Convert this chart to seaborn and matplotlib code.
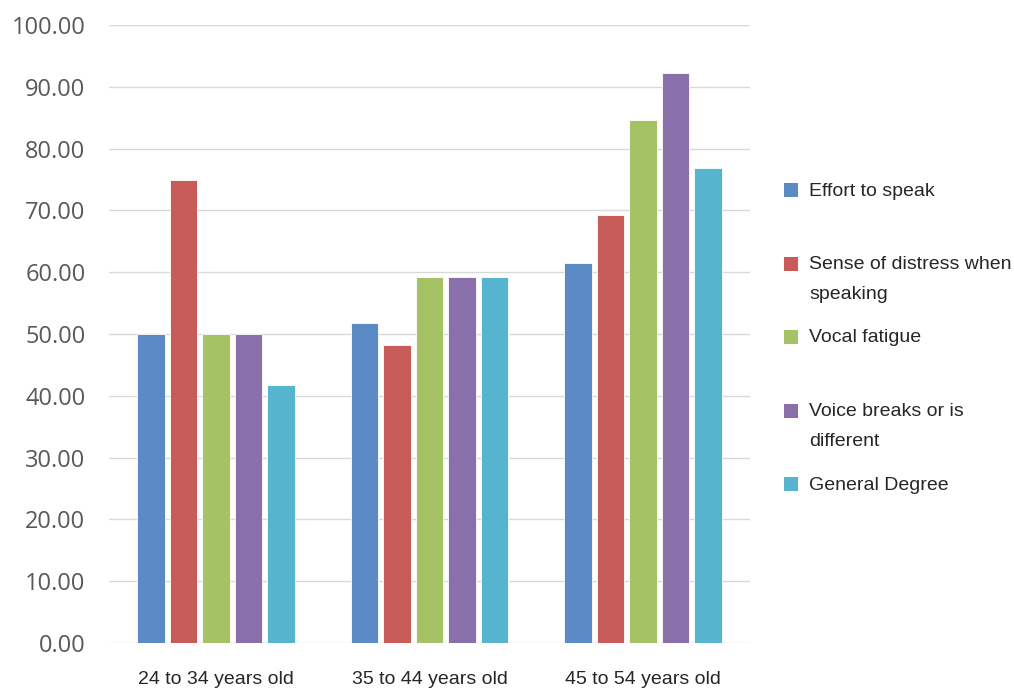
import pandas as pd
import matplotlib
matplotlib.use("Agg")
import matplotlib.pyplot as plt
from matplotlib.patches import Rectangle
from matplotlib.ticker import FuncFormatter, MultipleLocator
import seaborn as sns

# Voice symptom scores by age group
age_groups = ["24 to 34 years old", "35 to 44 years old", "45 to 54 years old"]
symptoms = [
    "Effort to speak",
    "Sense of distress when\nspeaking",
    "Vocal fatigue",
    "Voice breaks or is\ndifferent",
    "General Degree",
]
effort = [50.00, 51.85, 61.54]
distress = [75.00, 48.15, 69.23]
fatigue = [50.00, 59.26, 84.62]
breaks = [50.00, 59.26, 92.31]
general = [41.67, 59.26, 76.92]
colors = ["#5B8BC5", "#C65B57", "#A5C264", "#8A70AA", "#56B4CE"]

series = [effort, distress, fatigue, breaks, general]
df = pd.DataFrame(
    [(age, sym, v) for sym, vals in zip(symptoms, series) for age, v in zip(age_groups, vals)],
    columns=["age", "symptom", "score"],
)

sns.set_style("white")
plt.rcParams["font.family"] = ["Liberation Sans", "DejaVu Sans"]

W, H = 1014, 688
fig = plt.figure(figsize=(W / 100, H / 100), dpi=100)
ax = fig.add_axes([109 / W, 1 - 643 / H, (750 - 109) / W, (643 - 25) / H])

sns.barplot(
    data=df, x="age", y="score", hue="symptom",
    order=age_groups, hue_order=symptoms, palette=colors, saturation=1,
    width=0.76, gap=0.15, edgecolor="white", linewidth=0.6,
    legend=False, ax=ax, zorder=3,
)

ax.set_ylim(0, 100)
ax.set_xlim(-0.5, 2.5)
ax.yaxis.set_major_locator(MultipleLocator(10))
ax.yaxis.set_major_formatter(FuncFormatter(lambda v, _: f"{v:.2f}"))
ax.grid(axis="y", color="#D9D9D9", linewidth=1.0, zorder=0)
ax.grid(axis="x", visible=False)
ax.set_axisbelow(True)
for s in ax.spines.values():
    s.set_visible(False)
ax.set_xlabel("")
ax.set_ylabel("")
ax.tick_params(axis="y", length=0, pad=17, labelsize=17, labelcolor="#595959")
ax.tick_params(axis="x", length=0, pad=20, labelsize=14, labelcolor="#262626")
for t in ax.get_yticklabels():
    t.set_fontfamily(["Open Sans", "DejaVu Sans"])

# Legend: square swatches with labels aligned to their first line
for i, (lab, col) in enumerate(zip(symptoms, colors)):
    yc = 190 + i * 73.5
    fig.add_artist(Rectangle((784 / W, 1 - (yc + 7) / H), 14 / W, 14 / H,
                             transform=fig.transFigure, facecolor=col,
                             edgecolor="none"))
    fig.text(809 / W, 1 - (yc - 7.5) / H, lab, ha="left", va="top",
             fontsize=14, color="#262626", linespacing=2.0)

fig.savefig("out.png", dpi=100)
